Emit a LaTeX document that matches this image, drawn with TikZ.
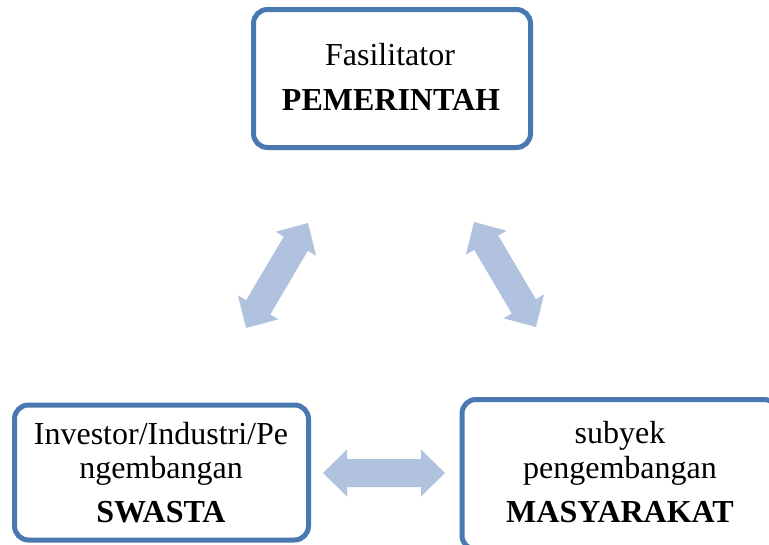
\documentclass[tikz,border=0pt]{standalone}
\usepackage{fontspec}
\setmainfont{Liberation Serif}
\usetikzlibrary{calc}
\definecolor{boxline}{RGB}{74,120,176}
\definecolor{arrowfill}{RGB}{176,194,222}
\tikzset{
  roundbox/.style={draw=boxline, line width=5pt, rounded corners=14pt, fill=white, inner sep=0pt},
  txt/.style={anchor=base, inner sep=0pt, font=\fontsize{32}{36}\selectfont},
  boldtxt/.style={txt, font=\fontsize{32}{36}\selectfont\bfseries},
}
\newcommand\fatarrow[2]{%
  \fill[arrowfill] (#1)
   -- ($(#1)!24pt!(#2)!23.5pt!90:(#2)$)
   -- ($(#1)!24pt!(#2)!14pt!90:(#2)$)
   -- ($(#2)!24pt!(#1)!14pt!-90:(#1)$)
   -- ($(#2)!24pt!(#1)!23.5pt!-90:(#1)$)
   -- (#2)
   -- ($(#2)!24pt!(#1)!23.5pt!90:(#1)$)
   -- ($(#2)!24pt!(#1)!14pt!90:(#1)$)
   -- ($(#1)!24pt!(#2)!14pt!-90:(#2)$)
   -- ($(#1)!24pt!(#2)!23.5pt!-90:(#2)$)
   -- cycle;}
\begin{document}
\begin{tikzpicture}[x=1pt,y=-1pt]
\useasboundingbox (0,0) rectangle (769,544);
\clip (0,0) rectangle (769,544);
\fill[white] (0,0) rectangle (769,544);
% boxes
\node[roundbox, minimum width=277pt, minimum height=138pt] (gov) at (392,78.5) {};
\node[roundbox, minimum width=294pt, minimum height=135pt] (swasta) at (161.5,472.5) {};
\node[roundbox, minimum width=316pt, minimum height=150pt] (masy) at (620,474.5) {};
% texts
\node[txt] (gov1) at (390,65) {Fasilitator};
\node[boldtxt] (gov2) at (391,110) {PEMERINTAH};
\node[txt] (sw1) at (161,444) {Investor/Industri/Pe};
\node[txt] (sw2) at (161,478) {ngembangan};
\node[boldtxt] (sw3) at (161,522) {SWASTA};
\node[txt] (ma1) at (620,443) {subyek};
\node[txt] (ma2) at (620,478) {pengembangan};
\node[boldtxt] (ma3) at (620,522) {MASYARAKAT};
% arrow ends
\coordinate (L1) at (246,328);
\coordinate (L2) at (308,223);
\coordinate (R1) at (474,222);
\coordinate (R2) at (536,327);
\coordinate (B1) at (323,473);
\coordinate (B2) at (445,473);
\fatarrow{L1}{L2}
\fatarrow{R1}{R2}
\fatarrow{B1}{B2}
\end{tikzpicture}
\end{document}
